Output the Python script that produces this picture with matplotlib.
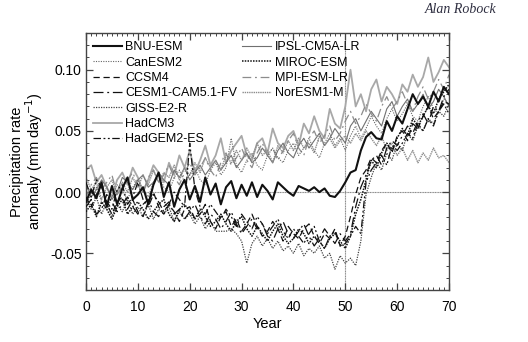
import matplotlib
matplotlib.use("Agg")
import matplotlib.pyplot as plt
from matplotlib.ticker import MultipleLocator, FormatStrFormatter

plt.rcParams["font.family"] = ["Liberation Sans", "DejaVu Sans"]
plt.rcParams["axes.unicode_minus"] = False

years = list(range(0, 71))

# annual precipitation anomalies (mm/day), years 0-70
bnu_esm = [
    -0.008, 0.002, -0.005, 0.008, -0.012, 0.005, -0.010, 0.003, 0.012, -0.006, -0.002,
    0.004, -0.010, 0.006, 0.016, -0.004, 0.008, -0.012, 0.002, 0.010, -0.006,
    0.005, -0.008, 0.012, -0.002, 0.007, -0.010, 0.004, 0.009, -0.005, 0.006,
    -0.003, 0.008, -0.004, 0.006, 0.001, -0.006, 0.008, 0.004, 0.000, -0.003,
    0.005, 0.003, 0.001, 0.004, 0.000, 0.003, -0.003, -0.004, 0.001, 0.008,
    0.016, 0.018, 0.034, 0.045, 0.049, 0.044, 0.043, 0.058, 0.050, 0.062,
    0.056, 0.068, 0.080, 0.072, 0.078, 0.070, 0.082, 0.074, 0.086, 0.080,
]
canesm2 = [
    -0.010, -0.002, 0.004, -0.008, -0.014, -0.004, 0.006, 0.000, -0.006, 0.004, 0.010,
    0.002, -0.004, 0.008, 0.014, 0.004, 0.000, 0.012, 0.018, 0.008, 0.014,
    0.020, 0.010, 0.006, 0.018, 0.024, 0.014, 0.020, 0.044, 0.022, 0.016,
    0.026, 0.032, 0.022, 0.018, 0.030, 0.036, 0.028, 0.024, 0.034, 0.040,
    0.030, 0.036, 0.044, 0.034, 0.028, 0.040, 0.048, 0.038, 0.044, 0.034,
    0.046, 0.054, 0.044, 0.052, 0.062, 0.054, 0.048, 0.060, 0.068, 0.058,
    0.064, 0.072, 0.062, 0.058, 0.070, 0.078, 0.068, 0.064, 0.076, 0.072,
]
ccsm4 = [
    -0.004, -0.012, -0.002, 0.006, -0.010, -0.018, -0.008, -0.004, -0.014, -0.006, -0.016,
    -0.020, -0.008, 0.000, -0.012, -0.018, -0.010, -0.016, -0.024, -0.014, -0.012,
    -0.022, -0.018, -0.010, -0.024, -0.030, -0.020, -0.016, -0.028, -0.022, -0.032,
    -0.026, -0.018, -0.028, -0.036, -0.032, -0.024, -0.030, -0.040, -0.028, -0.034,
    -0.038, -0.030, -0.026, -0.036, -0.042, -0.034, -0.038, -0.030, -0.044, -0.036,
    -0.020, -0.002, 0.012, 0.018, 0.028, 0.024, 0.034, 0.040, 0.032, 0.046,
    0.050, 0.042, 0.056, 0.052, 0.062, 0.070, 0.060, 0.066, 0.074, 0.072,
]
cesm1_cam5 = [
    -0.012, -0.006, -0.018, -0.014, -0.002, -0.008, -0.016, -0.010, -0.004, -0.012, -0.018,
    -0.010, -0.006, -0.016, -0.020, -0.012, -0.008, -0.018, -0.014, -0.022, -0.016,
    -0.010, -0.020, -0.026, -0.018, -0.022, -0.030, -0.024, -0.016, -0.026, -0.034,
    -0.028, -0.022, -0.030, -0.026, -0.036, -0.040, -0.030, -0.024, -0.034, -0.038,
    -0.032, -0.026, -0.036, -0.044, -0.038, -0.030, -0.036, -0.042, -0.034, -0.040,
    -0.034, -0.012, 0.004, 0.014, 0.026, 0.030, 0.022, 0.036, 0.042, 0.038,
    0.046, 0.054, 0.048, 0.058, 0.064, 0.056, 0.070, 0.066, 0.078, 0.084,
]
giss_e2_r = [
    -0.006, -0.014, -0.004, -0.018, -0.008, -0.020, -0.010, -0.016, -0.006, -0.018, -0.012,
    -0.020, -0.010, -0.022, -0.014, -0.018, -0.012, -0.024, -0.016, -0.022, -0.018,
    -0.026, -0.020, -0.030, -0.024, -0.032, -0.032, -0.032, -0.030, -0.034, -0.040,
    -0.058, -0.042, -0.036, -0.044, -0.038, -0.046, -0.040, -0.048, -0.044, -0.050,
    -0.042, -0.052, -0.046, -0.050, -0.044, -0.054, -0.050, -0.063, -0.052, -0.058,
    -0.054, -0.060, -0.040, -0.002, 0.012, 0.024, 0.018, 0.032, 0.026, 0.040,
    0.034, 0.048, 0.042, 0.054, 0.050, 0.060, 0.056, 0.066, 0.062, 0.072,
]
hadcm3 = [
    0.018, 0.022, 0.008, 0.014, 0.004, -0.004, 0.010, 0.016, 0.006, 0.020, 0.012,
    0.000, 0.010, 0.022, 0.016, 0.008, 0.024, 0.014, 0.030, 0.020, 0.034,
    0.016, 0.026, 0.038, 0.022, 0.030, 0.044, 0.024, 0.034, 0.040, 0.046,
    0.030, 0.026, 0.040, 0.044, 0.032, 0.052, 0.040, 0.036, 0.046, 0.050,
    0.038, 0.056, 0.048, 0.062, 0.050, 0.044, 0.068, 0.056, 0.052, 0.070,
    0.100, 0.070, 0.080, 0.066, 0.084, 0.092, 0.074, 0.086, 0.080, 0.072,
    0.088, 0.082, 0.096, 0.086, 0.094, 0.110, 0.090, 0.098, 0.108, 0.102,
]
hadgem2_es = [
    0.008, -0.004, 0.010, 0.004, -0.008, -0.014, 0.002, 0.006, -0.010, -0.004, 0.008,
    -0.006, -0.012, -0.002, -0.008, -0.016, -0.010, 0.000, -0.006, -0.012, 0.040,
    0.002, -0.012, -0.018, -0.010, -0.016, -0.022, -0.014, -0.020, -0.028, -0.018,
    -0.024, -0.030, -0.020, -0.026, -0.034, -0.028, -0.022, -0.032, -0.038, -0.030,
    -0.036, -0.042, -0.034, -0.028, -0.040, -0.046, -0.036, -0.032, -0.044, -0.042,
    -0.036, -0.028, -0.034, 0.008, 0.018, 0.024, 0.030, 0.022, 0.038, 0.034,
    0.040, 0.048, 0.044, 0.056, 0.050, 0.060, 0.054, 0.066, 0.072, 0.064,
]
ipsl_cm5a_lr = [
    0.006, -0.004, 0.002, 0.010, 0.004, -0.006, 0.000, 0.012, 0.008, 0.002, 0.010,
    0.014, 0.004, 0.008, 0.016, 0.010, 0.006, 0.018, 0.012, 0.020, 0.010,
    0.016, 0.022, 0.014, 0.020, 0.026, 0.018, 0.024, 0.030, 0.020, 0.026,
    0.032, 0.024, 0.028, 0.036, 0.030, 0.024, 0.034, 0.040, 0.032, 0.028,
    0.038, 0.044, 0.036, 0.042, 0.048, 0.038, 0.044, 0.052, 0.046, 0.040,
    0.054, 0.060, 0.050, 0.058, 0.066, 0.060, 0.054, 0.068, 0.074, 0.062,
    0.070, 0.076, 0.066, 0.072, 0.080, 0.068, 0.074, 0.084, 0.078, 0.070,
]
miroc_esm = [
    -0.016, -0.010, -0.020, -0.008, -0.014, -0.022, -0.012, -0.006, -0.018, -0.012, -0.008,
    -0.014, -0.022, -0.016, -0.010, -0.006, -0.018, -0.024, -0.014, -0.010, -0.016,
    -0.022, -0.014, -0.020, -0.028, -0.024, -0.018, -0.026, -0.032, -0.024, -0.020,
    -0.030, -0.036, -0.028, -0.034, -0.040, -0.032, -0.026, -0.036, -0.042, -0.038,
    -0.030, -0.034, -0.042, -0.036, -0.040, -0.046, -0.038, -0.034, -0.040, -0.046,
    -0.036, -0.018, -0.006, 0.010, 0.026, 0.020, 0.032, 0.040, 0.034, 0.044,
    0.052, 0.046, 0.060, 0.054, 0.062, 0.070, 0.064, 0.076, 0.082, 0.088,
]
mpi_esm_lr = [
    -0.004, 0.006, 0.012, 0.002, 0.008, 0.014, -0.002, 0.004, 0.010, 0.016, 0.006,
    0.000, 0.012, 0.018, 0.008, 0.014, 0.022, 0.012, 0.006, 0.016, 0.024,
    0.014, 0.020, 0.028, 0.018, 0.012, 0.024, 0.032, 0.022, 0.028, 0.036,
    0.026, 0.020, 0.032, 0.040, 0.030, 0.036, 0.026, 0.034, 0.042, 0.048,
    0.036, 0.030, 0.044, 0.050, 0.040, 0.046, 0.054, 0.042, 0.048, 0.058,
    0.066, 0.056, 0.062, 0.072, 0.064, 0.058, 0.070, 0.078, 0.068, 0.074,
    0.082, 0.072, 0.066, 0.078, 0.086, 0.076, 0.082, 0.092, 0.084, 0.096,
]
noresm1_m = [
    0.012, 0.002, 0.008, -0.006, 0.004, 0.010, -0.002, 0.008, 0.000, 0.012, 0.004,
    0.014, 0.006, 0.018, 0.008, 0.016, 0.012, 0.022, 0.010, 0.020, 0.014,
    0.024, 0.016, 0.028, 0.020, 0.026, 0.018, 0.030, 0.024, 0.034, 0.026,
    0.036, 0.028, 0.040, 0.030, 0.034, 0.024, 0.038, 0.032, 0.042, 0.034,
    0.044, 0.036, 0.040, 0.032, 0.046, 0.038, 0.044, 0.036, 0.042, 0.046,
    0.040, 0.048, 0.042, 0.050, 0.044, 0.038, 0.046, 0.034, 0.040, 0.030,
    0.036, 0.026, 0.034, 0.024, 0.032, 0.026, 0.036, 0.028, 0.030, 0.024,
]

model_names = [
    "BNU-ESM", "CanESM2", "CCSM4", "CESM1-CAM5.1-FV", "GISS-E2-R", "HadCM3",
    "HadGEM2-ES", "IPSL-CM5A-LR", "MIROC-ESM", "MPI-ESM-LR", "NorESM1-M",
]
model_series = [
    bnu_esm, canesm2, ccsm4, cesm1_cam5, giss_e2_r, hadcm3,
    hadgem2_es, ipsl_cm5a_lr, miroc_esm, mpi_esm_lr, noresm1_m,
]

# colour, dash pattern, width, draw order
STYLES = {
    "BNU-ESM": ("#111111", "-", 1.5, 9),
    "CanESM2": ("#666666", (0, (1, 1.2)), 0.8, 3),
    "CCSM4": ("#111111", (0, (5, 3)), 0.9, 6),
    "CESM1-CAM5.1-FV": ("#111111", (0, (8, 3, 1.5, 3)), 0.9, 6),
    "GISS-E2-R": ("#444444", (0, (1, 1)), 0.9, 5),
    "HadCM3": ("#a8a8a8", "-", 1.3, 1),
    "HadGEM2-ES": ("#111111", (0, (6, 2, 1.5, 2, 1.5, 2)), 0.9, 7),
    "IPSL-CM5A-LR": ("#707070", "-", 0.8, 2),
    "MIROC-ESM": ("#111111", (0, (1, 0.8)), 1.1, 8),
    "MPI-ESM-LR": ("#8c8c8c", (0, (7, 3, 1.5, 3)), 0.9, 2),
    "NorESM1-M": ("#8c8c8c", (0, (1, 0.6)), 1.0, 2),
}


def draw(out_path: str) -> None:
    fig = plt.figure(figsize=(5.28, 3.42), dpi=100)
    ax = fig.add_axes([0.1629, 0.152, 0.6875, 0.7515])

    ax.axhline(0.0, color="#888888", linewidth=0.8, linestyle=(0, (1, 0.5)), zorder=0)
    ax.axvline(50, color="#888888", linewidth=0.8, linestyle=(0, (1, 0.5)), zorder=0)

    handles = []
    for name, values in zip(model_names, model_series):
        color, ls, lw, z = STYLES[name]
        (line,) = ax.plot(years, values, color=color, linestyle=ls, linewidth=lw, zorder=z, label=name)
        handles.append(line)

    ax.set_xlim(0, 70)
    ax.set_ylim(-0.08, 0.13)
    ax.xaxis.set_major_locator(MultipleLocator(10))
    ax.xaxis.set_minor_locator(MultipleLocator(1))
    ax.yaxis.set_major_locator(MultipleLocator(0.05))
    ax.yaxis.set_minor_locator(MultipleLocator(0.01))
    ax.yaxis.set_major_formatter(FormatStrFormatter("%.2f"))
    ax.tick_params(which="both", direction="in", top=True, right=True, color="#444444")
    ax.tick_params(which="major", length=5, width=0.9)
    ax.tick_params(which="minor", length=2.5, width=0.7)
    ax.tick_params(axis="x", which="major", pad=7, labelsize=10)
    ax.tick_params(axis="y", which="major", pad=3, labelsize=10)
    for spine in ax.spines.values():
        spine.set_color("#444444")
        spine.set_linewidth(1.0)

    ax.set_xlabel("Year", fontsize=10.5, labelpad=2)
    ax.set_ylabel("Precipitation rate\nanomaly (mm day$^{-1}$)", fontsize=10.5, labelpad=4,
                  linespacing=0.95)

    leg_kw = dict(frameon=False, fontsize=9, handlelength=2.3, handletextpad=0.3,
                  labelspacing=0.27, borderpad=0, borderaxespad=0, loc="upper left")
    first = ax.legend(handles=handles[:7], bbox_to_anchor=(0.019, 0.968), **leg_kw)
    ax.add_artist(first)
    ax.legend(handles=handles[7:], bbox_to_anchor=(0.43, 0.968), **leg_kw)

    fig.text(0.94, 0.99, "Alan Robock", ha="right", va="top", fontsize=10,
             style="italic", family="Liberation Serif", color="#2e2e40")

    fig.savefig(out_path, dpi=100)
    plt.close(fig)


draw("out.png")
